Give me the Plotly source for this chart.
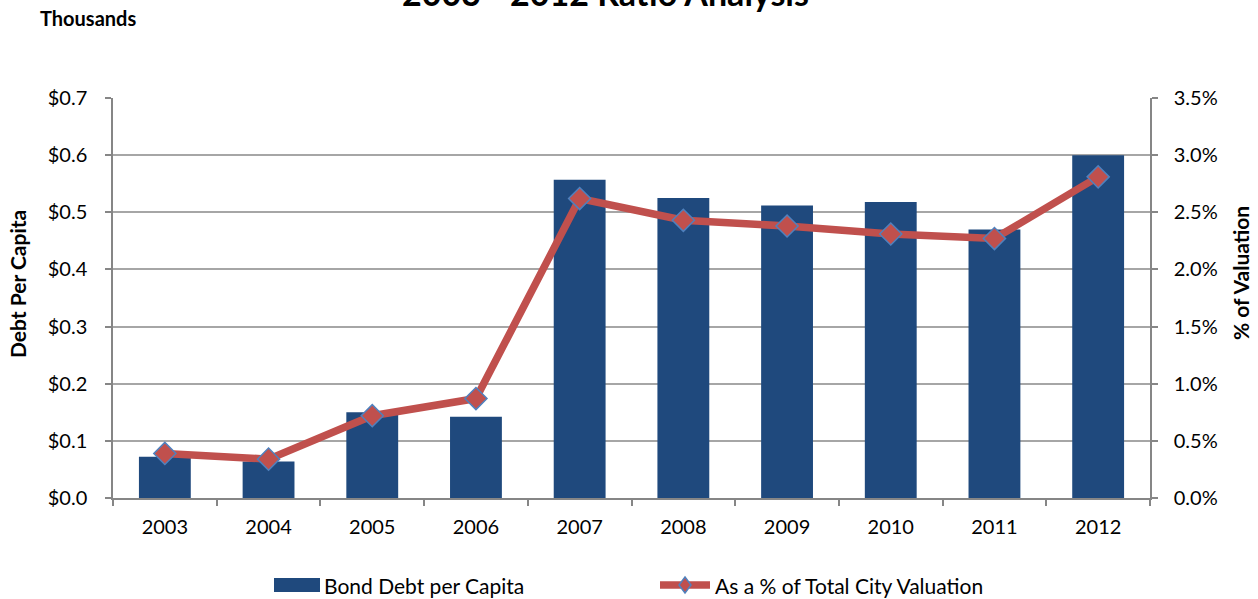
import plotly.graph_objects as go

# Fiscal years shown on the category axis
years = ["2003", "2004", "2005", "2006", "2007", "2008", "2009", "2010", "2011", "2012"]

# Bond debt per capita, in thousands of dollars
debt_per_capita = [0.072, 0.064, 0.150, 0.142, 0.557, 0.525, 0.512, 0.518, 0.470, 0.600]

# Debt as a percentage of total city valuation
pct_valuation = [0.39, 0.34, 0.72, 0.87, 2.62, 2.43, 2.38, 2.31, 2.27, 2.81]

FONT = "Lato, 'Open Sans', 'Liberation Sans', sans-serif"
AXIS_GRAY = "#868686"
BAR_BLUE = "#1F497D"
LINE_RED = "#C0504D"
EDGE_BLUE = "#4F81BD"

# plot area in pixels (used to place the page-level labels and legend keys)
W, H = 1258, 599
L, R, T, B = 113, 108, 98, 101
PW, PH = W - L - R, H - T - B


def px_x(x):
    return (x - L) / PW


def px_y(y):
    return (H - B - y) / PH


fig = go.Figure()

fig.add_trace(go.Bar(
    x=years,
    y=debt_per_capita,
    name="Bond Debt per Capita",
    marker=dict(color=BAR_BLUE, line=dict(width=0)),
    width=0.5,
    yaxis="y",
    showlegend=False,
))

fig.add_trace(go.Scatter(
    x=years,
    y=pct_valuation,
    name="As a % of Total City Valuation",
    mode="lines+markers",
    line=dict(color=LINE_RED, width=7.5),
    marker=dict(symbol="diamond", size=17, color=LINE_RED,
                line=dict(color=EDGE_BLUE, width=1.5)),
    yaxis="y2",
    showlegend=False,
))

# legend keys drawn below the plot
legend_y = 585
shapes = [
    dict(type="rect", xref="paper", yref="paper",
         x0=px_x(274), x1=px_x(320), y0=px_y(legend_y + 7), y1=px_y(legend_y - 7),
         fillcolor=BAR_BLUE, line=dict(width=0)),
    dict(type="line", xref="paper", yref="paper",
         x0=px_x(660), x1=px_x(710), y0=px_y(legend_y), y1=px_y(legend_y),
         line=dict(color=LINE_RED, width=7.5)),
    dict(type="path", xref="paper", yref="paper",
         path=(f"M {px_x(685)},{px_y(legend_y - 8)} L {px_x(691)},{px_y(legend_y)} "
               f"L {px_x(685)},{px_y(legend_y + 8)} L {px_x(679)},{px_y(legend_y)} Z"),
         fillcolor=LINE_RED, line=dict(color=EDGE_BLUE, width=1.5)),
]


def label(text, x, y, size, bold=False, anchor="left", angle=0):
    return dict(
        text=f"<b>{text}</b>" if bold else text,
        xref="paper", yref="paper",
        x=px_x(x), y=px_y(y),
        xanchor=anchor, yanchor="middle",
        textangle=angle,
        showarrow=False,
        font=dict(family=FONT, size=size, color="#000000"),
    )


fig.update_layout(
    width=W,
    height=H,
    margin=dict(l=L, r=R, t=T, b=B),
    paper_bgcolor="white",
    plot_bgcolor="white",
    font=dict(family=FONT, size=20, color="#000000"),
    showlegend=False,
    xaxis=dict(
        type="category",
        range=[-0.5, 9.5],
        showgrid=False,
        showline=True, linecolor=AXIS_GRAY, linewidth=1.5,
        tickson="boundaries",
        ticks="outside", ticklen=6, tickcolor=AXIS_GRAY, tickwidth=1.5,
        ticklabelstandoff=10,
        tickfont=dict(size=20),
    ),
    yaxis=dict(
        range=[0, 0.7], dtick=0.1,
        tickprefix="$", tickformat=".1f",
        showgrid=True, gridcolor="#A6A6A6", gridwidth=1.5,
        showline=True, linecolor=AXIS_GRAY, linewidth=1.5,
        ticks="outside", ticklen=6, tickcolor=AXIS_GRAY, tickwidth=1.5,
        ticklabelstandoff=14,
        zeroline=False,
        tickfont=dict(size=20),
    ),
    yaxis2=dict(
        overlaying="y", side="right",
        range=[0, 3.5], dtick=0.5,
        ticksuffix="%", tickformat=".1f",
        showgrid=False,
        showline=True, linecolor=AXIS_GRAY, linewidth=1.5,
        ticks="outside", ticklen=6, tickcolor=AXIS_GRAY, tickwidth=1.5,
        ticklabelstandoff=12,
        zeroline=False,
        tickfont=dict(size=20),
    ),
    shapes=shapes,
    annotations=[
        label("2003 - 2012 Ratio Analysis", 605, -8, 34, bold=True, anchor="center"),
        label("Thousands", 38, 18, 20, bold=True),
        label("Debt Per Capita", 17, 284, 21, bold=True, anchor="center", angle=-90),
        label("% of Valuation", 1240, 273, 21, bold=True, anchor="center", angle=-90),
        label("Bond Debt per Capita", 322, legend_y, 21),
        label("As a % of Total City Valuation", 713, legend_y, 21),
    ],
)

fig.write_html("out.html")
